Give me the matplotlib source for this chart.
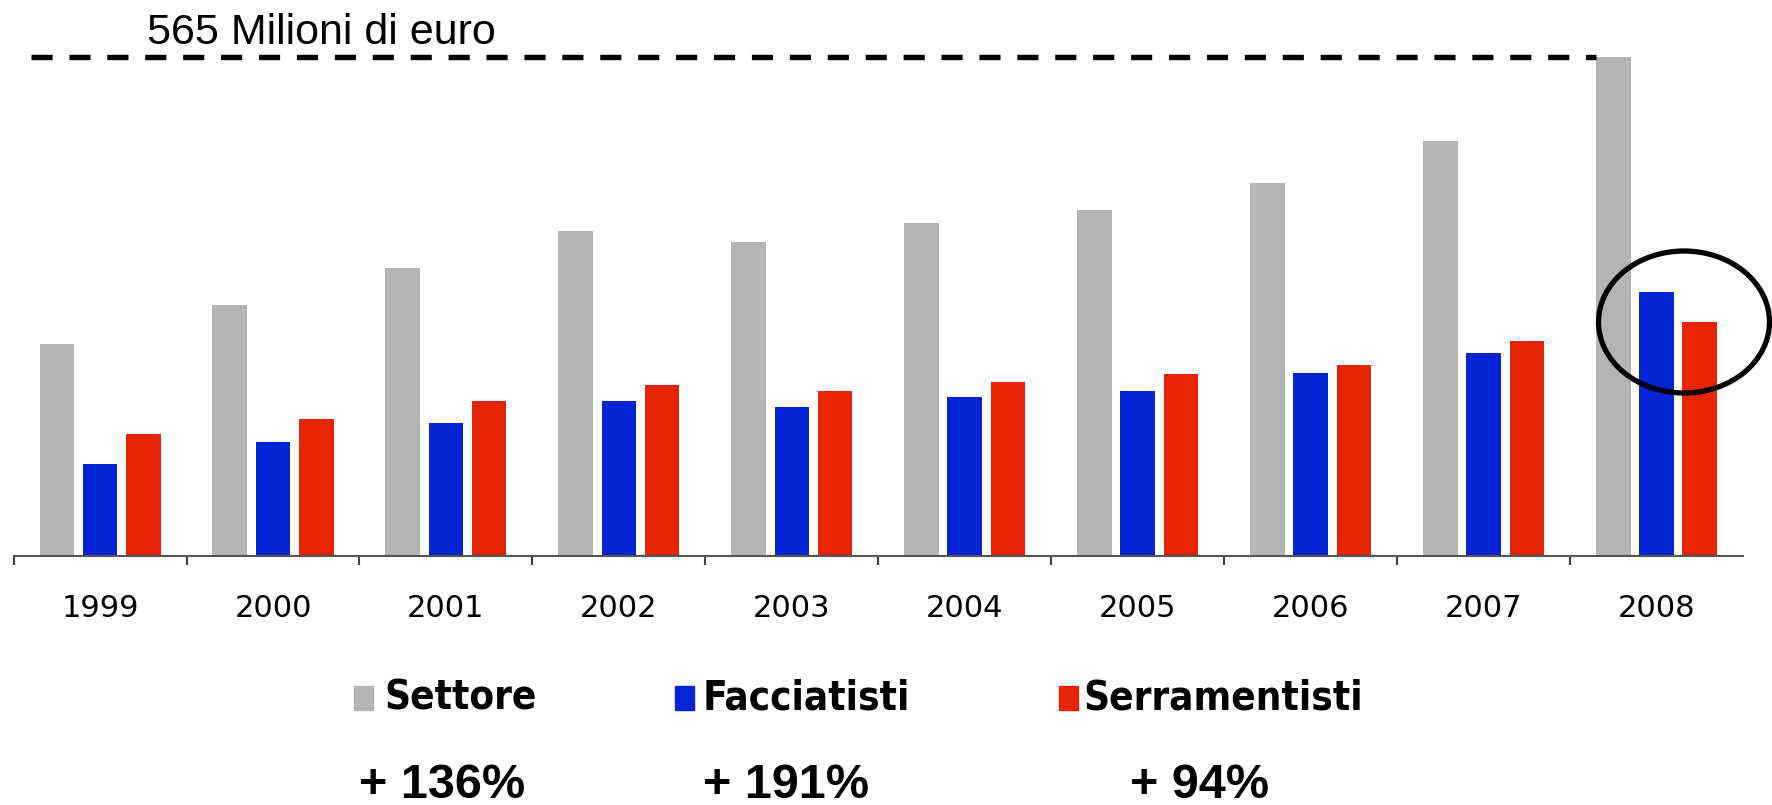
import numpy as np
import matplotlib.pyplot as plt
from matplotlib.patches import Ellipse, Rectangle
from matplotlib.transforms import IdentityTransform
from matplotlib import font_manager

# Data (millions of euro)
years = ['1999', '2000', '2001', '2002', '2003', '2004', '2005', '2006', '2007', '2008']
settore = [240, 284, 326, 368, 355, 377, 391, 422, 470, 565]
facciatisti = [104, 129, 151, 175, 169, 180, 187, 207, 230, 299]
serramentisti = [138, 155, 175, 194, 187, 197, 206, 216, 243, 265]
series_names = ['Settore', 'Facciatisti', 'Serramentisti']
growth = ['+ 136%', '+ 191%', '+ 94%']
top_label = '565 Milioni di euro'
top_value = 565

colors = ['#b4b4b4', '#0524d4', '#e52404']

W, H = 1772, 805


def find_font(keys):
    # look for an installed font file by name fragments
    for f in font_manager.fontManager.ttflist:
        name = f.fname.replace('-', '').replace('_', '').lower()
        if all(k in name for k in keys):
            return font_manager.FontProperties(fname=f.fname)
    return None


narrow_bold = find_font(['liberationsansnarrow', 'bold']) or find_font(['arialnarrow', 'bold'])
cond_bold = find_font(['dejavusanscondensed', 'bold'])
if narrow_bold is not None:
    pct_font, pct_size = narrow_bold, 41
else:
    pct_font, pct_size = font_manager.FontProperties(family='Liberation Sans', weight='bold'), 35
if cond_bold is not None:
    leg_font, leg_size = cond_bold, 29
else:
    leg_font, leg_size = font_manager.FontProperties(family='DejaVu Sans', weight='bold'), 26

fig = plt.figure(figsize=(W / 100, H / 100), dpi=100)
ax = fig.add_axes([13.6 / W, 249 / H, (1743 - 13.6) / W, 556 / H])

x = np.arange(len(years))
for off, vals, c in zip([-0.25, 0, 0.25], [settore, facciatisti, serramentisti], colors):
    ax.bar(x + off, vals, width=0.2, color=c)

ax.set_xlim(-0.5, len(years) - 0.5)
ax.set_ylim(0, 629)

for s in ['top', 'right', 'left']:
    ax.spines[s].set_visible(False)
ax.spines['bottom'].set_color('#555555')
ax.spines['bottom'].set_linewidth(1.5)
ax.set_yticks([])

# boundary ticks + centered labels
ax.set_xticks(x - 0.5)
ax.set_xticklabels([])
ax.tick_params(axis='x', which='major', direction='out', length=6.5, width=1.5, color='#404040')
ax.set_xticks(x, minor=True)
ax.set_xticklabels(years, minor=True, fontsize=22, family='DejaVu Sans')
ax.tick_params(axis='x', which='minor', length=0, pad=27)

# dashed reference line at the 2008 total
ax.plot([-0.4, len(years) - 1 - 0.35], [top_value, top_value], color='black', lw=3.9, dashes=(3.9, 3.1))
fig.text(147 / W, 1 - 44 / H, top_label, fontsize=31, family='Liberation Sans', va='baseline')

# circle around 2008 blue/red bars
ell = Ellipse((1684, H - 322), 171, 142, fill=False, ec='black', lw=3.8, transform=IdentityTransform())
fig.add_artist(ell)

# legend
sq_x = [354, 675, 1059]
txt_x = [384, 703, 1083]
for sx, tx, name, c in zip(sq_x, txt_x, series_names, colors):
    fig.add_artist(Rectangle((sx, H - 710), 19, 24, color=c, transform=IdentityTransform()))
    fig.text(tx / W, 1 - 699 / H, name, fontproperties=leg_font, fontsize=leg_size, va='center')

# growth percentages
pct_x = [359, 703, 1130]
for px, g in zip(pct_x, growth):
    fig.text(px / W, 7 / H, g, fontproperties=pct_font, fontsize=pct_size, va='baseline')

fig.savefig('out.png', dpi=100)
